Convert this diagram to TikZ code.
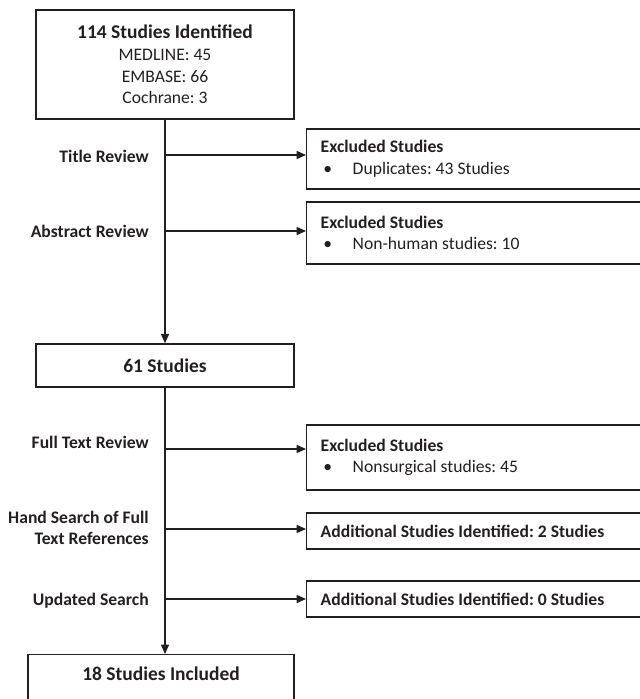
\documentclass[tikz,border=0pt]{standalone}
\usepackage{fontspec}
\setmainfont{Carlito}
\usetikzlibrary{arrows.meta}
\definecolor{ink}{HTML}{231F20}
\frenchspacing

\begin{document}
\begin{tikzpicture}[x=0.75pt,y=-0.75pt,
  every node/.style={font=\fontsize{13.2}{16.2}\selectfont,text=ink},
  head/.style={font=\fontsize{14.6}{16.2}\selectfont\bfseries},
  box/.style={draw=ink,line width=1.1pt,inner sep=0pt,align=center},
  sidebox/.style={box,anchor=west,align=flush left,inner xsep=10.5pt,text width=250pt},
  lbl/.style={anchor=east,align=flush right,inner xsep=0pt,font=\fontsize{13.2}{16.2}\selectfont\bfseries},
  flow/.style={draw=ink,line width=1.1pt,-{Triangle[length=7pt,width=6pt]}}
  ]
    \useasboundingbox (0,0) rectangle (639,699);

    \node[box,minimum width=193.5pt,minimum height=81.75pt] (ident) at (165,64.5)
        {{\fontsize{14.6}{16.2}\selectfont\bfseries 114 Studies Identified}\\MEDLINE: 45\\EMBASE: 66\\Cochrane: 3};
    \node[box,head,minimum width=193.5pt,minimum height=32.25pt] (s61) at (165,365.5) {61 Studies};
    \node[box,head,anchor=north,minimum width=199.5pt,text height=19.1pt,text depth=22.9pt] (incl) at (161,654) {18 Studies Included};

    \node[sidebox,minimum height=45pt] (ex1) at (306,159)
        {{\bfseries Excluded Studies}\\\makebox[24pt][l]{\hspace{2pt}\textbullet}Duplicates: 43 Studies};
    \node[sidebox,minimum height=46.5pt] (ex2) at (306,233)
        {{\bfseries Excluded Studies}\\\makebox[24pt][l]{\hspace{2pt}\textbullet}Non-human studies: 10};
    \node[sidebox,minimum height=48.75pt] (ex3) at (306,457.5)
        {{\bfseries Excluded Studies}\\\makebox[24pt][l]{\hspace{2pt}\textbullet}Nonsurgical studies: 45};
    \node[sidebox,minimum height=27pt,font=\fontsize{13.2}{16.2}\selectfont\bfseries] (add2) at (306,531) {Additional Studies Identified: 2 Studies};
    \node[sidebox,minimum height=27pt,font=\fontsize{13.2}{16.2}\selectfont\bfseries] (add0) at (306,599) {Additional Studies Identified: 0 Studies};

    % review steps
    \node[lbl] (title) at (149,156) {Title Review};
    \node[lbl] (abstr) at (149,231) {Abstract Review};
    \node[lbl] (full) at (149,442) {Full Text Review};
    \node[lbl] (hand) at (149,528) {Hand Search of Full\\Text References};
    \node[lbl] (upd) at (149,601) {Updated Search};

    \coordinate (t1) at (ident.south |- 0,155);
    \coordinate (t2) at (ident.south |- 0,231);
    \coordinate (t3) at (s61.south |- 0,449);
    \coordinate (t4) at (s61.south |- 0,529);
    \coordinate (t5) at (s61.south |- 0,599);

    \draw[flow] (ident) -- (s61);
    \draw[flow] (s61) -- (s61.south |- incl.north);
    \draw[flow] (t1) -- (t1 -| ex1.west);
    \draw[flow] (t2) -- (t2 -| ex2.west);
    \draw[flow] (t3) -- (t3 -| ex3.west);
    \draw[flow] (t4) -- (t4 -| add2.west);
    \draw[flow] (t5) -- (t5 -| add0.west);
\end{tikzpicture}
\end{document}
